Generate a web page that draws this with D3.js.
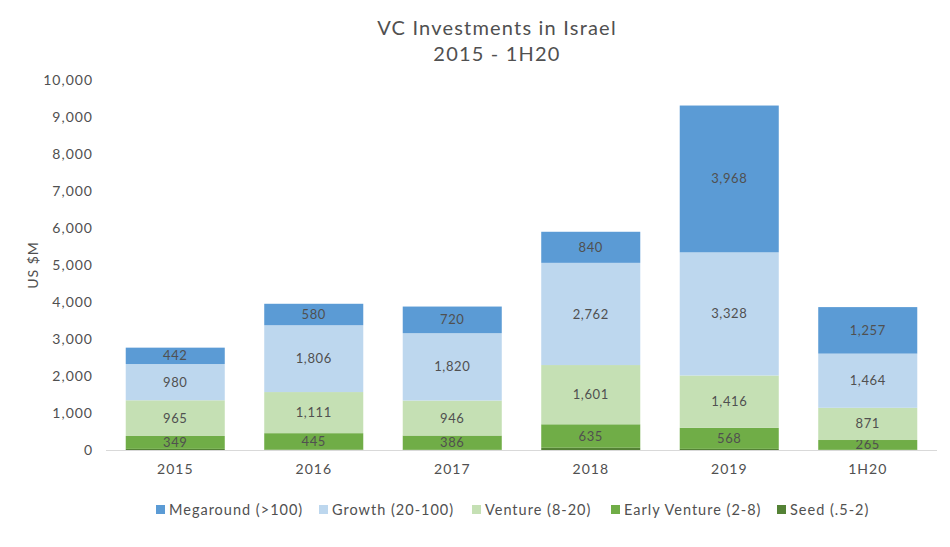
<!DOCTYPE html>
<html><head><meta charset="utf-8">
<script src="https://cdn.jsdelivr.net/npm/d3@7"></script>
<style>body{margin:0;background:#fff;} text{font-family:Lato,"Open Sans",sans-serif;}</style>
</head><body><svg id="c" width="950" height="547"></svg>
<script>
const categories = ["2015","2016","2017","2018","2019","1H20"];
const seriesNames = ["Seed (.5-2)","Early Venture (2-8)","Venture (8-20)","Growth (20-100)","Megaround (>100)"];
const seed = [30, 10, 5, 60, 30, 5];
const earlyVenture = [349, 445, 386, 635, 568, 265];
const venture = [965, 1111, 946, 1601, 1416, 871];
const growth = [980, 1806, 1820, 2762, 3328, 1464];
const megaround = [442, 580, 720, 840, 3968, 1257];
const yTicks = [0,1000,2000,3000,4000,5000,6000,7000,8000,9000,10000];
const colors = ["#548235","#70AD47","#C5E0B4","#BDD7EE","#5B9BD5"];
const labeled = [false,true,true,true,true];

const seriesVals = [seed, earlyVenture, venture, growth, megaround];
const rows = categories.map((c,i)=>{const r={cat:c}; seriesNames.forEach((s,j)=>r[s]=seriesVals[j][i]); return r;});
const stack = d3.stack().keys(seriesNames)(rows);

const svg = d3.select("#c");
const x = d3.scaleBand().domain(categories).range([106,937]).paddingInner(0.285).paddingOuter(0.1425);
const y = d3.scaleLinear().domain([0,10000]).range([450,80]);
const txt = "#505050";
const ff = "Lato, 'Open Sans', sans-serif";

svg.append("text").attr("x",497).attr("y",35).attr("text-anchor","middle").attr("font-size",20).attr("letter-spacing","1.2px").attr("fill",txt).text("VC Investments in Israel");
svg.append("text").attr("x",497).attr("y",61).attr("text-anchor","middle").attr("font-size",20).attr("letter-spacing","1.2px").attr("fill",txt).text("2015 - 1H20");

const yAxis = svg.append("g").attr("transform","translate(106,0)")
  .call(d3.axisLeft(y).tickValues(yTicks).tickSize(0).tickPadding(13).tickFormat(d3.format(",")));
yAxis.select(".domain").remove();
yAxis.selectAll("text").attr("font-size",14).attr("letter-spacing","1px").attr("fill",txt).style("font-family",ff);

svg.append("text").attr("transform","translate(38,265) rotate(-90)").attr("text-anchor","middle").attr("font-size",14).attr("letter-spacing","1px").attr("fill",txt).text("US $M");

const g = svg.append("g");
stack.forEach((layer,j)=>{
  g.selectAll(null).data(layer).enter().append("rect")
    .attr("x",d=>x(d.data.cat)).attr("width",x.bandwidth())
    .attr("y",d=>y(d[1])).attr("height",d=>y(d[0])-y(d[1]))
    .attr("fill",colors[j]);
  if(labeled[j]){
    g.selectAll(null).data(layer).enter().append("text")
      .attr("x",d=>x(d.data.cat)+x.bandwidth()/2)
      .attr("y",d=>(y(d[0])+y(d[1]))/2)
      .attr("dy","0.35em").attr("text-anchor","middle").attr("font-size",13).attr("letter-spacing","0.6px").attr("fill",txt)
      .text(d=>d3.format(",")(d[1]-d[0]));
  }
});

const xAxis = svg.append("g").attr("transform","translate(0,450)")
  .call(d3.axisBottom(x).tickSize(0).tickPadding(14));
xAxis.select(".domain").attr("stroke","#d9d9d9").attr("d","M106,0.5H937");
xAxis.selectAll("text").attr("font-size",14).attr("letter-spacing","1px").attr("fill",txt).style("font-family",ff);

const legendOrder = [4,3,2,1,0];
const legendX = [156,319,472,611,777];
const lg = svg.append("g");
legendOrder.forEach((j,k)=>{
  lg.append("rect").attr("x",legendX[k]).attr("y",505).attr("width",9).attr("height",9).attr("fill",colors[j]);
  lg.append("text").attr("x",legendX[k]+13).attr("y",510).attr("dy","0.35em").attr("font-size",14.5).attr("letter-spacing","1px").attr("fill",txt).text(seriesNames[j]);
});
</script></body></html>
